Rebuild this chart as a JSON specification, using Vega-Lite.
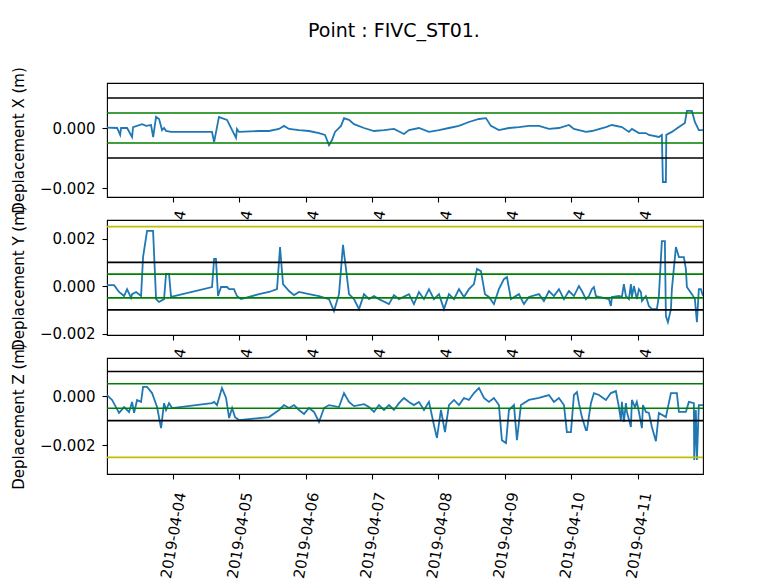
{
  "$schema": "https://vega.github.io/schema/vega-lite/v6.json",
  "background": "white",
  "padding": {"left": 10, "top": 22, "right": 10, "bottom": 0},
  "title": {"text": "Point : FIVC_ST01.", "fontSize": 19, "fontWeight": "normal", "font": "DejaVu Sans", "color": "black", "offset": 25, "dx": -11, "anchor": "middle", "frame": "group"},
  "config": {
    "font": "DejaVu Sans",
    "view": {"stroke": "black", "strokeWidth": 1.1, "fill": "white"},
    "axis": {"domain": false, "grid": false, "tickColor": "black", "tickWidth": 1.1, "tickSize": 5, "labelColor": "black", "labelFontSize": 15, "titleColor": "black", "titleFontSize": 15, "titleFontWeight": "normal", "labelFont": "DejaVu Sans", "titleFont": "DejaVu Sans"}
  },
  "bounds": "flush",
  "spacing": 23,
  "resolve": {"scale": {"y": "independent", "color": "independent"}},
  "datasets": {
    "dx": [
      {"t": "2019-04-03T00:20", "v": 0.00001}, {"t": "2019-04-03T04:00", "v": 0.0}, {"t": "2019-04-03T05:05", "v": -0.00023}, {"t": "2019-04-03T05:25", "v": 0.0}, {"t": "2019-04-03T07:35", "v": 0.0}, {"t": "2019-04-03T09:23", "v": -0.0003}, {"t": "2019-04-03T09:45", "v": 0.00003}, {"t": "2019-04-03T13:00", "v": 0.00013}, {"t": "2019-04-03T14:26", "v": 0.00007}, {"t": "2019-04-03T16:14", "v": 0.0001}, {"t": "2019-04-03T17:00", "v": -0.0003}, {"t": "2019-04-03T18:03", "v": 0.00037}, {"t": "2019-04-03T19:08", "v": 0.0003}, {"t": "2019-04-03T20:13", "v": -0.00007}, {"t": "2019-04-03T20:56", "v": 0.0}, {"t": "2019-04-03T21:39", "v": -0.0001}, {"t": "2019-04-03T23:27", "v": -0.00013},
      {"t": "2019-04-04T14:15", "v": -0.00013}, {"t": "2019-04-04T15:00", "v": -0.00047}, {"t": "2019-04-04T16:45", "v": 0.00037}, {"t": "2019-04-04T17:50", "v": 0.00033}, {"t": "2019-04-04T19:40", "v": 0.00027}, {"t": "2019-04-04T21:30", "v": -0.00007}, {"t": "2019-04-04T22:55", "v": -0.00033}, {"t": "2019-04-04T23:15", "v": -0.00003},
      {"t": "2019-04-05T00:00", "v": -0.00013}, {"t": "2019-04-05T07:13", "v": -0.0001}, {"t": "2019-04-05T10:50", "v": -0.0001}, {"t": "2019-04-05T14:26", "v": -0.00003}, {"t": "2019-04-05T16:14", "v": 0.00007}, {"t": "2019-04-05T18:03", "v": -0.00003}, {"t": "2019-04-05T21:39", "v": -0.00007},
      {"t": "2019-04-06T01:16", "v": -0.0001}, {"t": "2019-04-06T04:52", "v": -0.00017}, {"t": "2019-04-06T07:02", "v": -0.00023}, {"t": "2019-04-06T08:29", "v": -0.00057}, {"t": "2019-04-06T09:34", "v": -0.0004}, {"t": "2019-04-06T10:39", "v": -0.00013}, {"t": "2019-04-06T12:49", "v": 0.00007}, {"t": "2019-04-06T13:54", "v": 0.00033}, {"t": "2019-04-06T15:42", "v": 0.00027}, {"t": "2019-04-06T17:30", "v": 0.00013}, {"t": "2019-04-06T21:07", "v": 0.0},
      {"t": "2019-04-07T00:43", "v": -0.0001}, {"t": "2019-04-07T04:20", "v": -0.00007}, {"t": "2019-04-07T07:56", "v": -0.00003}, {"t": "2019-04-07T11:33", "v": -0.0002}, {"t": "2019-04-07T13:21", "v": -0.00007}, {"t": "2019-04-07T16:57", "v": 0.0}, {"t": "2019-04-07T20:34", "v": -0.00013},
      {"t": "2019-04-08T00:11", "v": -0.00007}, {"t": "2019-04-08T03:47", "v": 0.0}, {"t": "2019-04-08T07:24", "v": 0.00007}, {"t": "2019-04-08T11:00", "v": 0.0002}, {"t": "2019-04-08T14:37", "v": 0.0003}, {"t": "2019-04-08T17:08", "v": 0.00033}, {"t": "2019-04-08T18:56", "v": 0.00007}, {"t": "2019-04-08T21:49", "v": -0.00007},
      {"t": "2019-04-09T01:27", "v": 0.0}, {"t": "2019-04-09T05:03", "v": 0.00003}, {"t": "2019-04-09T08:40", "v": 0.00007}, {"t": "2019-04-09T12:16", "v": 0.00007}, {"t": "2019-04-09T15:53", "v": -0.00003}, {"t": "2019-04-09T19:29", "v": 0.0}, {"t": "2019-04-09T23:06", "v": 0.0001},
      {"t": "2019-04-10T00:54", "v": -0.00003}, {"t": "2019-04-10T02:42", "v": -0.00007}, {"t": "2019-04-10T05:14", "v": -0.00013}, {"t": "2019-04-10T07:24", "v": -0.0001}, {"t": "2019-04-10T12:27", "v": 0.00003}, {"t": "2019-04-10T14:37", "v": 0.0001}, {"t": "2019-04-10T18:13", "v": 0.00003}, {"t": "2019-04-10T20:45", "v": -0.00013}, {"t": "2019-04-10T21:50", "v": -0.00003},
      {"t": "2019-04-11T00:22", "v": -0.00017}, {"t": "2019-04-11T02:53", "v": -0.00017}, {"t": "2019-04-11T03:58", "v": -0.00023}, {"t": "2019-04-11T07:34", "v": -0.0003}, {"t": "2019-04-11T08:39", "v": -0.00023}, {"t": "2019-04-11T09:01", "v": -0.0018}, {"t": "2019-04-11T10:06", "v": -0.0018}, {"t": "2019-04-11T10:15", "v": -0.00023}, {"t": "2019-04-11T12:16", "v": -0.00013}, {"t": "2019-04-11T14:48", "v": 0.00003}, {"t": "2019-04-11T16:58", "v": 0.00017}, {"t": "2019-04-11T17:41", "v": 0.00057}, {"t": "2019-04-11T19:29", "v": 0.00057}, {"t": "2019-04-11T20:34", "v": 0.0002}, {"t": "2019-04-11T22:00", "v": -0.00007}, {"t": "2019-04-11T23:30", "v": -0.00007}
    ],
    "dy": [
      {"t": "2019-04-03T00:20", "v": 0.00004}, {"t": "2019-04-03T02:53", "v": 0.00004}, {"t": "2019-04-03T04:41", "v": -0.00025}, {"t": "2019-04-03T06:30", "v": -0.00042}, {"t": "2019-04-03T07:35", "v": -0.00013}, {"t": "2019-04-03T09:01", "v": -0.0005}, {"t": "2019-04-03T09:23", "v": -0.00034}, {"t": "2019-04-03T10:50", "v": -0.00025}, {"t": "2019-04-03T12:38", "v": -0.00042}, {"t": "2019-04-03T13:21", "v": 0.00122}, {"t": "2019-04-03T14:48", "v": 0.00232}, {"t": "2019-04-03T16:58", "v": 0.00232}, {"t": "2019-04-03T18:03", "v": -0.00055}, {"t": "2019-04-03T19:08", "v": -0.00067}, {"t": "2019-04-03T20:56", "v": -0.00055}, {"t": "2019-04-03T21:39", "v": 0.00051}, {"t": "2019-04-03T22:44", "v": 0.00051}, {"t": "2019-04-03T23:27", "v": -0.00046},
      {"t": "2019-04-04T14:15", "v": -0.00004}, {"t": "2019-04-04T15:00", "v": 0.00114}, {"t": "2019-04-04T15:40", "v": 0.00114}, {"t": "2019-04-04T16:25", "v": -0.00042}, {"t": "2019-04-04T17:30", "v": -0.00004}, {"t": "2019-04-04T19:40", "v": -0.00004}, {"t": "2019-04-04T20:25", "v": -0.00013}, {"t": "2019-04-04T22:10", "v": -0.00013}, {"t": "2019-04-04T23:15", "v": -0.00042},
      {"t": "2019-04-05T00:43", "v": -0.00055}, {"t": "2019-04-05T07:13", "v": -0.00034}, {"t": "2019-04-05T10:50", "v": -0.00025}, {"t": "2019-04-05T13:43", "v": -0.00013}, {"t": "2019-04-05T14:48", "v": 0.00164}, {"t": "2019-04-05T15:53", "v": 0.00008}, {"t": "2019-04-05T18:03", "v": -0.00021}, {"t": "2019-04-05T19:51", "v": -0.00038}, {"t": "2019-04-05T21:39", "v": -0.00025},
      {"t": "2019-04-06T01:16", "v": -0.00034}, {"t": "2019-04-06T04:52", "v": -0.00042}, {"t": "2019-04-06T08:29", "v": -0.00055}, {"t": "2019-04-06T10:17", "v": -0.00105}, {"t": "2019-04-06T12:05", "v": -0.00034}, {"t": "2019-04-06T13:32", "v": 0.00173}, {"t": "2019-04-06T14:37", "v": 0.00072}, {"t": "2019-04-06T15:42", "v": -0.00034}, {"t": "2019-04-06T17:30", "v": -0.00055}, {"t": "2019-04-06T19:19", "v": -0.00097}, {"t": "2019-04-06T21:07", "v": -0.00034}, {"t": "2019-04-06T22:55", "v": -0.00055},
      {"t": "2019-04-07T00:43", "v": -0.00042}, {"t": "2019-04-07T02:31", "v": -0.00055}, {"t": "2019-04-07T06:08", "v": -0.00076}, {"t": "2019-04-07T07:56", "v": -0.00038}, {"t": "2019-04-07T09:45", "v": -0.00055}, {"t": "2019-04-07T13:21", "v": -0.00034}, {"t": "2019-04-07T15:09", "v": -0.00076}, {"t": "2019-04-07T16:57", "v": -0.00025}, {"t": "2019-04-07T18:46", "v": -0.00055}, {"t": "2019-04-07T20:34", "v": -0.00013}, {"t": "2019-04-07T22:22", "v": -0.00055},
      {"t": "2019-04-08T00:11", "v": -0.00034}, {"t": "2019-04-08T01:59", "v": -0.00097}, {"t": "2019-04-08T03:47", "v": -0.00034}, {"t": "2019-04-08T05:36", "v": -0.00055}, {"t": "2019-04-08T07:24", "v": -0.00013}, {"t": "2019-04-08T09:12", "v": -0.00046}, {"t": "2019-04-08T11:00", "v": -0.00013}, {"t": "2019-04-08T12:49", "v": 0.00008}, {"t": "2019-04-08T13:54", "v": 0.00072}, {"t": "2019-04-08T15:20", "v": 0.00063}, {"t": "2019-04-08T16:47", "v": -0.00034}, {"t": "2019-04-08T18:13", "v": -0.00046}, {"t": "2019-04-08T20:01", "v": -0.00076}, {"t": "2019-04-08T21:49", "v": -0.00013}, {"t": "2019-04-08T23:38", "v": 0.00029},
      {"t": "2019-04-09T00:43", "v": 0.00038}, {"t": "2019-04-09T02:10", "v": -0.00055}, {"t": "2019-04-09T05:03", "v": -0.00034}, {"t": "2019-04-09T06:51", "v": -0.00076}, {"t": "2019-04-09T08:40", "v": -0.00046}, {"t": "2019-04-09T12:16", "v": -0.00034}, {"t": "2019-04-09T14:04", "v": -0.00063}, {"t": "2019-04-09T15:53", "v": -0.00021}, {"t": "2019-04-09T17:41", "v": -0.00042}, {"t": "2019-04-09T19:29", "v": -0.00013}, {"t": "2019-04-09T21:18", "v": -0.00055}, {"t": "2019-04-09T23:06", "v": -0.00021},
      {"t": "2019-04-10T00:54", "v": -0.00042}, {"t": "2019-04-10T02:42", "v": 0.0}, {"t": "2019-04-10T03:47", "v": -0.00021}, {"t": "2019-04-10T05:14", "v": -0.00055}, {"t": "2019-04-10T06:19", "v": -0.00042}, {"t": "2019-04-10T07:24", "v": -0.00013}, {"t": "2019-04-10T08:07", "v": -0.00004}, {"t": "2019-04-10T08:50", "v": -0.00042}, {"t": "2019-04-10T09:56", "v": -0.00046}, {"t": "2019-04-10T13:32", "v": -0.00055}, {"t": "2019-04-10T14:15", "v": -0.00084}, {"t": "2019-04-10T14:37", "v": -0.00046}, {"t": "2019-04-10T17:08", "v": -0.00042}, {"t": "2019-04-10T18:13", "v": -0.00046}, {"t": "2019-04-10T18:56", "v": 0.00008}, {"t": "2019-04-10T19:40", "v": -0.00042}, {"t": "2019-04-10T20:45", "v": -0.00055}, {"t": "2019-04-10T21:28", "v": 0.00008}, {"t": "2019-04-10T21:50", "v": -0.00046}, {"t": "2019-04-10T22:33", "v": 0.0}, {"t": "2019-04-10T23:37", "v": -0.00055},
      {"t": "2019-04-11T00:22", "v": -0.00013}, {"t": "2019-04-11T01:05", "v": -0.00025}, {"t": "2019-04-11T01:27", "v": -0.00063}, {"t": "2019-04-11T02:53", "v": -0.00042}, {"t": "2019-04-11T03:58", "v": -0.00084}, {"t": "2019-04-11T05:03", "v": -0.00097}, {"t": "2019-04-11T06:51", "v": -0.00097}, {"t": "2019-04-11T07:34", "v": -0.00042}, {"t": "2019-04-11T08:39", "v": 0.00189}, {"t": "2019-04-11T09:44", "v": 0.00189}, {"t": "2019-04-11T10:06", "v": -0.00126}, {"t": "2019-04-11T10:50", "v": -0.00152}, {"t": "2019-04-11T11:55", "v": -0.00097}, {"t": "2019-04-11T12:16", "v": -0.00013}, {"t": "2019-04-11T13:43", "v": 0.00164}, {"t": "2019-04-11T14:48", "v": 0.00122}, {"t": "2019-04-11T16:36", "v": 0.00122}, {"t": "2019-04-11T17:19", "v": 0.00072}, {"t": "2019-04-11T17:41", "v": -0.00004}, {"t": "2019-04-11T19:29", "v": -0.00034}, {"t": "2019-04-11T20:34", "v": -0.00055}, {"t": "2019-04-11T21:18", "v": -0.00152}, {"t": "2019-04-11T22:00", "v": -0.00013}, {"t": "2019-04-11T22:44", "v": -0.00013}, {"t": "2019-04-11T23:30", "v": -0.00042}
    ],
    "dz": [
      {"t": "2019-04-03T00:20", "v": 0.00004}, {"t": "2019-04-03T02:10", "v": -0.00016}, {"t": "2019-04-03T04:41", "v": -0.00069}, {"t": "2019-04-03T06:30", "v": -0.00045}, {"t": "2019-04-03T08:18", "v": -0.00065}, {"t": "2019-04-03T09:23", "v": -0.00024}, {"t": "2019-04-03T10:06", "v": -0.00069}, {"t": "2019-04-03T11:11", "v": -0.00016}, {"t": "2019-04-03T12:38", "v": -0.00024}, {"t": "2019-04-03T13:21", "v": 0.00037}, {"t": "2019-04-03T14:48", "v": 0.00037}, {"t": "2019-04-03T16:36", "v": 0.00012}, {"t": "2019-04-03T18:24", "v": -0.00045}, {"t": "2019-04-03T19:51", "v": -0.00131}, {"t": "2019-04-03T20:56", "v": -0.00029}, {"t": "2019-04-03T21:39", "v": -0.00057}, {"t": "2019-04-03T22:44", "v": -0.00029}, {"t": "2019-04-03T23:49", "v": -0.00049},
      {"t": "2019-04-04T14:15", "v": -0.00029}, {"t": "2019-04-04T15:00", "v": -0.00024}, {"t": "2019-04-04T16:03", "v": -0.00037}, {"t": "2019-04-04T17:50", "v": 0.00033}, {"t": "2019-04-04T19:19", "v": -0.00008}, {"t": "2019-04-04T20:25", "v": -0.0009}, {"t": "2019-04-04T21:30", "v": -0.00049}, {"t": "2019-04-04T22:33", "v": -0.00086},
      {"t": "2019-04-05T00:00", "v": -0.00098}, {"t": "2019-04-05T07:13", "v": -0.0009}, {"t": "2019-04-05T10:50", "v": -0.00086}, {"t": "2019-04-05T14:26", "v": -0.00057}, {"t": "2019-04-05T16:14", "v": -0.00037}, {"t": "2019-04-05T18:03", "v": -0.00049}, {"t": "2019-04-05T19:51", "v": -0.00037}, {"t": "2019-04-05T21:39", "v": -0.00057}, {"t": "2019-04-05T23:28", "v": -0.00073},
      {"t": "2019-04-06T01:16", "v": -0.00049}, {"t": "2019-04-06T03:04", "v": -0.00065}, {"t": "2019-04-06T04:52", "v": -0.00106}, {"t": "2019-04-06T06:41", "v": -0.00049}, {"t": "2019-04-06T08:29", "v": -0.00037}, {"t": "2019-04-06T12:05", "v": -0.00045}, {"t": "2019-04-06T13:54", "v": 0.00012}, {"t": "2019-04-06T15:42", "v": -0.00024}, {"t": "2019-04-06T17:30", "v": -0.00041}, {"t": "2019-04-06T21:07", "v": -0.00033}, {"t": "2019-04-06T22:55", "v": -0.00045},
      {"t": "2019-04-07T00:43", "v": -0.00065}, {"t": "2019-04-07T02:31", "v": -0.00037}, {"t": "2019-04-07T04:20", "v": -0.00057}, {"t": "2019-04-07T06:08", "v": -0.00037}, {"t": "2019-04-07T07:56", "v": -0.00057}, {"t": "2019-04-07T09:45", "v": -0.00029}, {"t": "2019-04-07T11:33", "v": -0.00008}, {"t": "2019-04-07T13:21", "v": -0.00024}, {"t": "2019-04-07T15:09", "v": -0.00037}, {"t": "2019-04-07T16:57", "v": -0.00024}, {"t": "2019-04-07T18:46", "v": -0.00057}, {"t": "2019-04-07T20:34", "v": -0.00024}, {"t": "2019-04-07T22:22", "v": -0.00118}, {"t": "2019-04-07T23:27", "v": -0.00171},
      {"t": "2019-04-08T00:54", "v": -0.00057}, {"t": "2019-04-08T02:21", "v": -0.00147}, {"t": "2019-04-08T03:47", "v": -0.00037}, {"t": "2019-04-08T05:36", "v": -0.00016}, {"t": "2019-04-08T07:24", "v": -0.00037}, {"t": "2019-04-08T09:12", "v": -0.00008}, {"t": "2019-04-08T11:00", "v": -0.00016}, {"t": "2019-04-08T12:49", "v": 0.00012}, {"t": "2019-04-08T14:37", "v": 0.00033}, {"t": "2019-04-08T16:25", "v": -0.00008}, {"t": "2019-04-08T18:13", "v": -0.00024}, {"t": "2019-04-08T20:01", "v": -0.00008}, {"t": "2019-04-08T21:49", "v": -0.00037}, {"t": "2019-04-08T22:54", "v": -0.0018},
      {"t": "2019-04-09T00:22", "v": -0.00192}, {"t": "2019-04-09T01:27", "v": -0.00057}, {"t": "2019-04-09T03:15", "v": -0.00037}, {"t": "2019-04-09T04:20", "v": -0.0018}, {"t": "2019-04-09T05:46", "v": -0.00037}, {"t": "2019-04-09T08:40", "v": -0.00016}, {"t": "2019-04-09T12:16", "v": -0.00008}, {"t": "2019-04-09T15:53", "v": 0.00004}, {"t": "2019-04-09T17:41", "v": -0.00024}, {"t": "2019-04-09T19:29", "v": -0.00008}, {"t": "2019-04-09T21:18", "v": -0.00037}, {"t": "2019-04-09T22:22", "v": -0.00147}, {"t": "2019-04-09T23:49", "v": -0.00147},
      {"t": "2019-04-10T00:54", "v": 0.00004}, {"t": "2019-04-10T01:59", "v": 0.00016}, {"t": "2019-04-10T02:42", "v": -0.00029}, {"t": "2019-04-10T03:47", "v": -0.00086}, {"t": "2019-04-10T05:14", "v": -0.00139}, {"t": "2019-04-10T05:36", "v": -0.00139}, {"t": "2019-04-10T07:02", "v": -0.00029}, {"t": "2019-04-10T08:07", "v": 0.00012}, {"t": "2019-04-10T09:56", "v": 0.00004}, {"t": "2019-04-10T12:27", "v": -0.00016}, {"t": "2019-04-10T14:15", "v": 0.00012}, {"t": "2019-04-10T16:03", "v": 0.0002}, {"t": "2019-04-10T17:08", "v": -0.00045}, {"t": "2019-04-10T17:51", "v": -0.00098}, {"t": "2019-04-10T18:13", "v": -0.00024}, {"t": "2019-04-10T18:56", "v": -0.00106}, {"t": "2019-04-10T19:40", "v": -0.00029}, {"t": "2019-04-10T20:02", "v": -0.00065}, {"t": "2019-04-10T21:28", "v": -0.00126}, {"t": "2019-04-10T21:50", "v": -0.00016}, {"t": "2019-04-10T22:55", "v": -0.00045}, {"t": "2019-04-10T23:37", "v": -0.00024},
      {"t": "2019-04-11T00:22", "v": -0.00065}, {"t": "2019-04-11T01:27", "v": -0.00131}, {"t": "2019-04-11T01:49", "v": -0.00037}, {"t": "2019-04-11T02:53", "v": -0.00065}, {"t": "2019-04-11T03:58", "v": -0.00069}, {"t": "2019-04-11T05:03", "v": -0.00126}, {"t": "2019-04-11T06:30", "v": -0.00184}, {"t": "2019-04-11T07:34", "v": -0.00069}, {"t": "2019-04-11T10:06", "v": -0.00086}, {"t": "2019-04-11T11:55", "v": 0.00012}, {"t": "2019-04-11T14:04", "v": 0.00012}, {"t": "2019-04-11T14:48", "v": -0.00065}, {"t": "2019-04-11T17:19", "v": -0.00065}, {"t": "2019-04-11T18:24", "v": -0.00024}, {"t": "2019-04-11T20:12", "v": -0.00029}, {"t": "2019-04-11T20:20", "v": -0.00261}, {"t": "2019-04-11T20:55", "v": -0.00057}, {"t": "2019-04-11T21:18", "v": -0.00261}, {"t": "2019-04-11T22:00", "v": -0.00037}, {"t": "2019-04-11T23:30", "v": -0.00037}
    ],
    "rx": [{"v": 0.001, "c": "k"}, {"v": -0.001, "c": "k"}, {"v": 0.0005, "c": "g"}, {"v": -0.0005, "c": "g"}],
    "ry": [{"v": 0.0025, "c": "y"}, {"v": 0.001, "c": "k"}, {"v": -0.001, "c": "k"}, {"v": 0.0005, "c": "g"}, {"v": -0.0005, "c": "g"}],
    "rz": [{"v": -0.0025, "c": "y"}, {"v": 0.001, "c": "k"}, {"v": -0.001, "c": "k"}, {"v": 0.0005, "c": "g"}, {"v": -0.0005, "c": "g"}]
  },
  "vconcat": [
    {
      "width": 596, "height": 114,
      "layer": [
        {"data": {"name": "dx"}, "mark": {"type": "line", "color": "#1f77b4", "strokeWidth": 1.8, "clip": true},
         "encoding": {
           "x": {"field": "t", "type": "temporal", "scale": {"domain": [{"year": 2019, "month": 4, "date": 3, "hours": 0, "minutes": 20}, {"year": 2019, "month": 4, "date": 11, "hours": 23, "minutes": 30}]},
                 "axis": {"title": null, "values": [{"year": 2019, "month": 4, "date": 4}, {"year": 2019, "month": 4, "date": 5}, {"year": 2019, "month": 4, "date": 6}, {"year": 2019, "month": 4, "date": 7}, {"year": 2019, "month": 4, "date": 8}, {"year": 2019, "month": 4, "date": 9}, {"year": 2019, "month": 4, "date": 10}, {"year": 2019, "month": 4, "date": 11}], "format": "%Y-%m", "labelAngle": -80, "labelAlign": "right", "labelBaseline": "middle", "labelOffset": 8, "labelPadding": 8, "labelOverlap": false, "labelBound": false, "labelFlush": false}},
           "y": {"field": "v", "type": "quantitative", "scale": {"domain": [-0.0023, 0.0015], "nice": false, "zero": false},
                 "axis": {"title": "Deplacement X (m)", "values": [-0.002, 0], "format": ".3f", "labelPadding": 7, "titlePadding": 13}}
         }},
        {"data": {"name": "rx"}, "mark": {"type": "rule", "strokeWidth": 1.7},
         "encoding": {"y": {"field": "v", "type": "quantitative"},
                      "color": {"field": "c", "type": "nominal", "scale": {"domain": ["k", "g", "y"], "range": ["#000000", "#008000", "#bfbf00"]}, "legend": null}}}
      ]
    },
    {
      "width": 596, "height": 115,
      "layer": [
        {"data": {"name": "dy"}, "mark": {"type": "line", "color": "#1f77b4", "strokeWidth": 1.8, "clip": true},
         "encoding": {
           "x": {"field": "t", "type": "temporal", "scale": {"domain": [{"year": 2019, "month": 4, "date": 3, "hours": 0, "minutes": 20}, {"year": 2019, "month": 4, "date": 11, "hours": 23, "minutes": 30}]},
                 "axis": {"title": null, "values": [{"year": 2019, "month": 4, "date": 4}, {"year": 2019, "month": 4, "date": 5}, {"year": 2019, "month": 4, "date": 6}, {"year": 2019, "month": 4, "date": 7}, {"year": 2019, "month": 4, "date": 8}, {"year": 2019, "month": 4, "date": 9}, {"year": 2019, "month": 4, "date": 10}, {"year": 2019, "month": 4, "date": 11}], "format": "%Y-%m", "labelAngle": -80, "labelAlign": "right", "labelBaseline": "middle", "labelOffset": 8, "labelPadding": 8, "labelOverlap": false, "labelBound": false, "labelFlush": false}},
           "y": {"field": "v", "type": "quantitative", "scale": {"domain": [-0.00206, 0.00278], "nice": false, "zero": false},
                 "axis": {"title": "Deplacement Y (m)", "values": [-0.002, 0, 0.002], "format": ".3f", "labelPadding": 7, "titlePadding": 13}}
         }},
        {"data": {"name": "ry"}, "mark": {"type": "rule", "strokeWidth": 1.7},
         "encoding": {"y": {"field": "v", "type": "quantitative"},
                      "color": {"field": "c", "type": "nominal", "scale": {"domain": ["k", "g", "y"], "range": ["#000000", "#008000", "#bfbf00"]}, "legend": null}}}
      ]
    },
    {
      "width": 596, "height": 116,
      "layer": [
        {"data": {"name": "dz"}, "mark": {"type": "line", "color": "#1f77b4", "strokeWidth": 1.8, "clip": true},
         "encoding": {
           "x": {"field": "t", "type": "temporal", "scale": {"domain": [{"year": 2019, "month": 4, "date": 3, "hours": 0, "minutes": 20}, {"year": 2019, "month": 4, "date": 11, "hours": 23, "minutes": 30}]},
                 "axis": {"title": null, "values": [{"year": 2019, "month": 4, "date": 4}, {"year": 2019, "month": 4, "date": 5}, {"year": 2019, "month": 4, "date": 6}, {"year": 2019, "month": 4, "date": 7}, {"year": 2019, "month": 4, "date": 8}, {"year": 2019, "month": 4, "date": 9}, {"year": 2019, "month": 4, "date": 10}, {"year": 2019, "month": 4, "date": 11}], "format": "%Y-%m-%d", "labelAngle": -80, "labelAlign": "right", "labelBaseline": "middle", "labelOffset": 8, "labelPadding": 13, "labelOverlap": false, "labelBound": false, "labelFlush": false}},
           "y": {"field": "v", "type": "quantitative", "scale": {"domain": [-0.00318, 0.00155], "nice": false, "zero": false},
                 "axis": {"title": "Deplacement Z (m)", "values": [-0.002, 0], "format": ".3f", "labelPadding": 7, "titlePadding": 13}}
         }},
        {"data": {"name": "rz"}, "mark": {"type": "rule", "strokeWidth": 1.7},
         "encoding": {"y": {"field": "v", "type": "quantitative"},
                      "color": {"field": "c", "type": "nominal", "scale": {"domain": ["k", "g", "y"], "range": ["#000000", "#008000", "#bfbf00"]}, "legend": null}}}
      ]
    }
  ]
}
